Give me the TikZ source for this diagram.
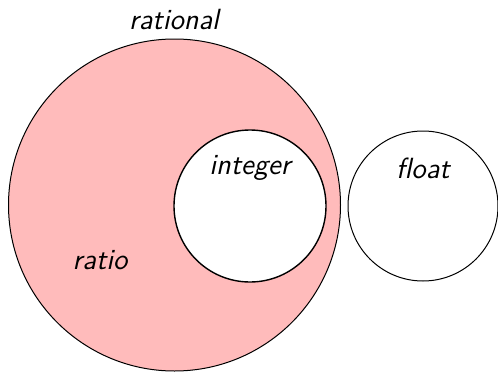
\documentclass[tikz,border=0pt]{standalone}
\usetikzlibrary{positioning}
\definecolor{ratiopink}{RGB}{255,187,187}
\tikzset{
  every node/.style={font=\fontsize{14.6}{17}\selectfont\sffamily\itshape},
  outerset/.style = {circle, draw=black, line width=0.5pt, fill=ratiopink, inner sep=0pt},
  innerset/.style = {circle, draw=black, line width=0.7pt, fill=white, inner sep=0pt},
  freeset/.style  = {circle, draw=black, line width=0.5pt, fill=white, inner sep=0pt},
  setname/.style  = {inner sep=1pt},
}

\begin{document}
\begin{tikzpicture}[x=0.5pt, y=0.5pt]
  \useasboundingbox (0,0) rectangle (498,371);

  % ---- the sets ----
  \node[outerset, minimum size=332pt*0.5] (rational) at (174.5,166) {};
  \node[innerset, minimum size=152pt*0.5] (integer)  at (250,165)   {};
  \node[freeset,  minimum size=150pt*0.5] (float)    at (423,165)   {};

  % ---- set names ----
  \node[setname] (rationalname) at (174,351) {rational};
  \node[setname] (integername)  at (250,203) {integer};
  \node[setname] (floatname)    at (423,203) {float};
  \node[setname] (rationame)    at (100,111) {ratio};
\end{tikzpicture}
\end{document}
